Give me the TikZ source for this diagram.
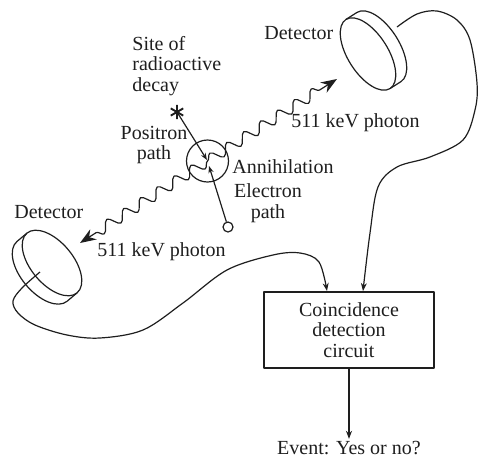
\documentclass[tikz,border=0pt]{standalone}
\usepackage{fontspec}
\setmainfont{Liberation Serif}
\usetikzlibrary{arrows.meta,decorations.pathmorphing}
\definecolor{ink}{RGB}{30,30,30}
\begin{document}
\begin{tikzpicture}[x=0.5pt,y=-0.5pt, line join=round, ink,
  lbl/.style={font=\fontsize{10}{10.4}\selectfont, inner sep=0pt, text=ink},
  wire/.style={line width=0.6pt, -{Stealth[length=4pt,width=3pt]}},
  photon/.style={line width=0.6pt, decorate,
    decoration={snake, amplitude=2.7pt, segment length=10pt, post length=7pt},
    -{Stealth[length=8pt,width=6pt]}},
  track/.style={line width=0.6pt, -{Stealth[length=3.5pt,width=2.6pt]}},
  disc/.style={line width=0.6pt}]
\useasboundingbox (0,0) rectangle (478,462);

% upper detector: front face plus the visible rim behind it
\begin{scope}[shift={(368,54)}, rotate=-57.5, disc]
  \draw (0,0) ellipse [x radius=20.5pt, y radius=10pt];
  \draw (-20.5pt,0pt) -- (-20.5pt,6.5pt)
    arc[start angle=180, end angle=0, x radius=20.5pt, y radius=10pt] -- (20.5pt,0pt);
\end{scope}
% lower detector
\begin{scope}[shift={(52,263)}, rotate=-50, disc]
  \draw (0,0) ellipse [x radius=19.5pt, y radius=10.5pt];
  \draw (-19.5pt,0pt) -- (-19.5pt,-6.5pt)
    arc[start angle=180, end angle=360, x radius=19.5pt, y radius=10.5pt] -- (19.5pt,0pt);
\end{scope}

% decay site, annihilation point and electron
\coordinate (decay) at (177,112);
\draw[line width=0.95pt] ([shift={(90:3.6pt)}]decay) -- ([shift={(270:3.6pt)}]decay)
  ([shift={(30:3.6pt)}]decay) -- ([shift={(210:3.6pt)}]decay)
  ([shift={(150:3.6pt)}]decay) -- ([shift={(330:3.6pt)}]decay);
\node[draw, circle, minimum size=21pt, inner sep=0pt, line width=0.6pt] (ann) at (207.5,161) {};
\node[draw, circle, minimum size=5pt, inner sep=0pt, line width=0.6pt] (elec) at (228,227) {};
\coordinate (ptip) at (207,160);
\coordinate (etip) at (209,166);
\draw[track] (decay) -- (ptip);
\draw[track] (elec) -- (etip);

% photons
\coordinate (tipR) at (337,79);
\coordinate (tipL) at (80,243);
\draw[photon] (ann.center) -- (tipR);
\draw[photon] (ann.center) -- (tipL);

% coincidence circuit
\node[draw, line width=1pt, minimum width=85pt, minimum height=38pt, lbl, align=center]
  (box) at (349,330) {Coincidence\\detection\\circuit};
\node[lbl] (event) at (349,448) {Event: Yes or no?};
\draw[wire, shorten >=1pt] (box.south) -- (event.north);

% cables from the detectors
\coordinate (wireR) at (397,27);
\coordinate (wireL) at (40,272);
\coordinate (inL) at ([xshift=-11pt]box.north);
\coordinate (inR) at ([xshift=7pt]box.north);
\draw[wire] plot[smooth, tension=0.55] coordinates {(wireL) (22,288) (13,301) (18,313)
  (35,325) (67,335) (100,338) (143,330) (183,303) (227,270) (273,255) (300,253)
  (319,262) (inL)};
\draw[wire] plot[smooth, tension=0.55] coordinates {(wireR) (417,14) (437,11) (457,20)
  (470,40) (477,83) (475,110) (463,140) (430,157) (397,167) (378,187) (370,233) (inR)};

% labels
\node[lbl, anchor=west, align=left] (sitelbl) at (132,66) {Site of\\radioactive\\decay};
\node[lbl, align=center] (poslbl) at (154,145) {Positron\\path};
\node[lbl, anchor=west] (annlbl) at (232,167) {Annihilation};
\node[lbl, align=center] (eleclbl) at (268,203) {Electron\\path};
\node[lbl, anchor=west] (photR) at (291,123) {511 keV photon};
\node[lbl, anchor=west] (photL) at (97,252) {511 keV photon};
\node[lbl, anchor=west] (detR) at (264,33) {Detector};
\node[lbl, anchor=west] (detL) at (14,212) {Detector};
\end{tikzpicture}
\end{document}
